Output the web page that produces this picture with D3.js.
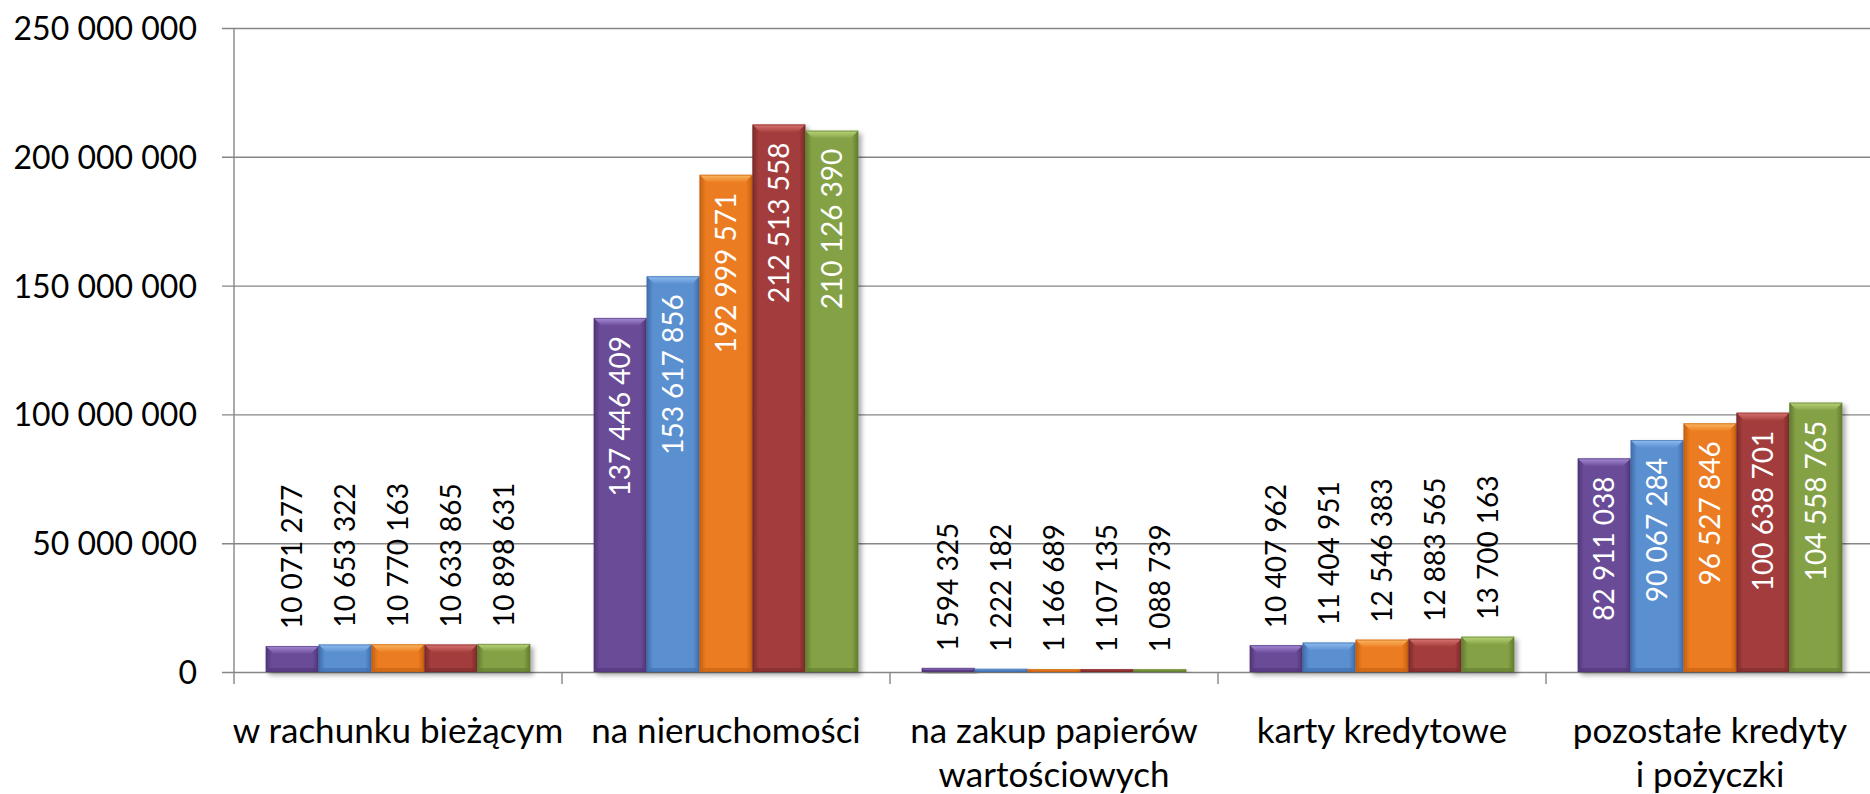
<!DOCTYPE html>
<html>
<head>
<meta charset="utf-8">
<script src="https://cdn.jsdelivr.net/npm/d3@7"></script>
<style>
  html, body { margin: 0; padding: 0; background: #fff; }
  text { font-family: Lato, "Open Sans", sans-serif; }
</style>
</head>
<body>
<script>
// categories (multi-line labels) and the five series
const categories = [
  ['w rachunku bieżącym'],
  ['na nieruchomości'],
  ['na zakup papierów', 'wartościowych'],
  ['karty kredytowe'],
  ['pozostałe kredyty', 'i pożyczki']
];
const seriesNames = ['seria 1', 'seria 2', 'seria 3', 'seria 4', 'seria 5'];
const serie1 = [10071277, 137446409, 1594325, 10407962, 82911038];
const serie2 = [10653322, 153617856, 1222182, 11404951, 90067284];
const serie3 = [10770163, 192999571, 1166689, 12546383, 96527846];
const serie4 = [10633865, 212513558, 1107135, 12883565, 100638701];
const serie5 = [10898631, 210126390, 1088739, 13700163, 104558765];
const yTicks = [0, 50000000, 100000000, 150000000, 200000000, 250000000];

const allSeries = [serie1, serie2, serie3, serie4, serie5];

// colours: body, dark edge, light top bevel
const colBody  = ['#6b4b98', '#5a8fd0', '#ec7c20', '#a33d3c', '#84a145'];
const colEdge  = ['#4e3676', '#3e6dab', '#c46011', '#7b2a2a', '#617b2f'];
const colLight = ['#a68cd8', '#8fbdf0', '#fbb862', '#d97471', '#b9d57a'];

const width = 1870, height = 794;
const margin = {top: 28, left: 234, bottom: 122};
const plotBottom = height - margin.bottom; // 672
const bandW = 328;

const pl = d3.formatLocale({decimal: ',', thousands: '\u00a0', grouping: [3], currency: ['', '']});
const fmt = pl.format(',');
const fmtLabel = v => fmt(v).replace(/\u00a0/g, ' ');

const catKeys = categories.map((d, i) => 'c' + i);

const x0 = d3.scaleBand()
  .domain(catKeys)
  .range([margin.left, margin.left + bandW * catKeys.length])
  .padding(0);

const x1 = d3.scaleBand()
  .domain(seriesNames)
  .range([0, x0.bandwidth()])
  .paddingInner(0)
  .paddingOuter(0.6);

const y = d3.scaleLinear()
  .domain([0, 250000000])
  .range([plotBottom, margin.top]);

const svg = d3.select('body').append('svg')
  .attr('width', width)
  .attr('height', height);

const defs = svg.append('defs');
const shadow = defs.append('filter').attr('id', 'shadow')
  .attr('x', '-20%').attr('y', '-20%').attr('width', '150%').attr('height', '150%');
shadow.append('feDropShadow')
  .attr('dx', 3).attr('dy', 3).attr('stdDeviation', 2.5)
  .attr('flood-color', '#000').attr('flood-opacity', 0.35);

seriesNames.forEach((s, i) => {
  const g = defs.append('linearGradient').attr('id', 'body' + i)
    .attr('x1', '0%').attr('x2', '100%').attr('y1', '0%').attr('y2', '0%');
  g.append('stop').attr('offset', '0%').attr('stop-color', colEdge[i]);
  g.append('stop').attr('offset', '12%').attr('stop-color', colBody[i]);
  g.append('stop').attr('offset', '88%').attr('stop-color', colBody[i]);
  g.append('stop').attr('offset', '100%').attr('stop-color', colEdge[i]);
  const t = defs.append('linearGradient').attr('id', 'top' + i)
    .attr('x1', '0%').attr('x2', '0%').attr('y1', '0%').attr('y2', '100%');
  t.append('stop').attr('offset', '0%').attr('stop-color', colLight[i]);
  t.append('stop').attr('offset', '100%').attr('stop-color', colBody[i]);
});

// y axis with gridlines
const yAxis = svg.append('g')
  .attr('transform', `translate(${margin.left},0)`)
  .call(d3.axisLeft(y).tickValues(yTicks).tickFormat(fmt).tickSize(12).tickPadding(25));
yAxis.select('.domain').remove();
yAxis.selectAll('.tick line')
  .attr('x1', -12).attr('x2', width - margin.left)
  .attr('stroke', '#868686').attr('stroke-width', 1.4);
yAxis.selectAll('.tick text')
  .attr('fill', '#000')
  .attr('font-size', 32)
  .attr('dy', '0.36em');

// vertical axis line
svg.append('line')
  .attr('x1', margin.left).attr('x2', margin.left)
  .attr('y1', margin.top).attr('y2', plotBottom + 12)
  .attr('stroke', '#868686').attr('stroke-width', 1.4);

// category boundary ticks
svg.append('g').selectAll('line')
  .data(catKeys.slice(1))
  .join('line')
  .attr('x1', d => x0(d)).attr('x2', d => x0(d))
  .attr('y1', plotBottom).attr('y2', plotBottom + 12)
  .attr('stroke', '#868686').attr('stroke-width', 1.4);

// category labels
const xAxis = svg.append('g')
  .attr('transform', `translate(0,${plotBottom})`)
  .call(d3.axisBottom(x0).tickSize(0).tickFormat(''));
xAxis.select('.domain').remove();
xAxis.selectAll('.tick').each(function(d, i) {
  const t = d3.select(this).append('text')
    .attr('fill', '#000')
    .attr('font-size', 35)
    .attr('text-anchor', 'middle')
    .attr('y', 71);
  categories[i].forEach((line, j) => {
    t.append('tspan').attr('x', 0).attr('dy', j === 0 ? 0 : 44).text(line);
  });
});

// bars
const bevel = 8, side = 4;
const groups = svg.append('g').selectAll('g')
  .data(catKeys)
  .join('g')
  .attr('transform', d => `translate(${x0(d)},0)`);

groups.each(function(cat, ci) {
  const g = d3.select(this);
  seriesNames.forEach((s, si) => {
    const v = allSeries[si][ci];
    const bx = x1(s), bw = x1.bandwidth();
    const by = y(v), bh = plotBottom - y(v);
    const b = Math.min(bevel, bh / 2);
    const sd = Math.min(side, bh / 2);
    const bar = g.append('g').attr('filter', 'url(#shadow)');
    bar.append('rect')
      .attr('x', bx).attr('y', by).attr('width', bw).attr('height', bh)
      .attr('fill', `url(#body${si})`);
    // top bevel
    bar.append('polygon')
      .attr('points', [[bx, by], [bx + bw, by], [bx + bw - b, by + b], [bx + b, by + b]].join(' '))
      .attr('fill', `url(#top${si})`);
    // bottom bevel
    bar.append('polygon')
      .attr('points', [[bx, by + bh], [bx + bw, by + bh], [bx + bw - sd, by + bh - sd], [bx + sd, by + bh - sd]].join(' '))
      .attr('fill', colEdge[si]).attr('opacity', 0.6);
    // thin outline
    bar.append('rect')
      .attr('x', bx + 0.5).attr('y', by + 0.5).attr('width', bw - 1).attr('height', Math.max(0, bh - 1))
      .attr('fill', 'none').attr('stroke', colEdge[si]).attr('stroke-opacity', 0.6).attr('stroke-width', 1);

    // data label
    const cx = bx + bw / 2;
    const lbl = g.append('text')
      .attr('font-size', 28)
      .attr('dy', '0.36em')
      .text(fmtLabel(v));
    const len = lbl.node().getComputedTextLength();
    if (len + 30 < bh) {
      lbl.attr('transform', `translate(${cx},${by + 18}) rotate(-90)`)
        .attr('text-anchor', 'end').attr('fill', '#fff');
    } else {
      lbl.attr('transform', `translate(${cx},${by - 17}) rotate(-90)`)
        .attr('text-anchor', 'start').attr('fill', '#000');
    }
  });
});
</script>
</body>
</html>
